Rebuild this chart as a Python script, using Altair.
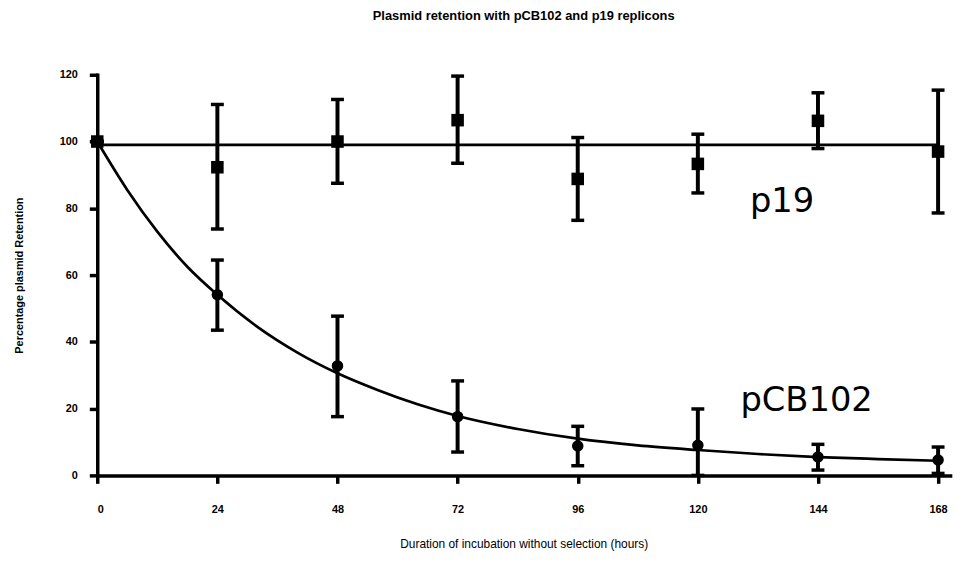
import altair as alt
import pandas as pd

# ---- data ----
hours = [0, 24, 48, 72, 96, 120, 144, 168]

p19_mean = [100, 92.3, 100.0, 106.4, 88.8, 93.3, 106.2, 97.0]
p19_upper = [100, 111.1, 112.6, 119.6, 101.2, 102.2, 114.6, 115.4]
p19_lower = [100, 73.8, 87.5, 93.5, 76.4, 84.6, 97.9, 78.6]

pcb_mean = [100, 54.1, 32.8, 17.6, 8.8, 9.0, 5.5, 4.6]
pcb_upper = [100, 64.5, 47.7, 28.3, 14.7, 19.9, 9.3, 8.5]
pcb_lower = [100, 43.5, 17.6, 7.0, 2.9, 0.0, 1.6, 0.6]

# fitted curves
p19_fit_x = [0, 168]
p19_fit_y = [99.0, 99.0]
pcb_fit_x = [0, 6, 12, 18, 24, 32, 40, 48, 56, 64, 72, 84, 96, 108, 120, 132, 144, 156, 168]
pcb_fit_y = [100, 85.5, 73.0, 62.5, 54.1, 44.5, 36.8, 30.6, 25.6, 21.3, 17.8, 13.9, 11.0, 9.0, 7.6, 6.4, 5.5, 4.9, 4.4]

x_ticks = [0, 24, 48, 72, 96, 120, 144, 168]
y_ticks = [0, 20, 40, 60, 80, 100, 120]

label_text = ["p19", "pCB102"]
label_x = [130.4, 128.5]
label_y = [78.8, 19.4]

# ---- tables ----
pts = pd.DataFrame({
    "h": hours * 2,
    "mean": p19_mean + pcb_mean,
    "upper": p19_upper + pcb_upper,
    "lower": p19_lower + pcb_lower,
    "series": ["p19"] * len(hours) + ["pCB102"] * len(hours),
})
fit = pd.DataFrame({
    "h": p19_fit_x + pcb_fit_x,
    "v": p19_fit_y + pcb_fit_y,
    "series": ["p19"] * len(p19_fit_x) + ["pCB102"] * len(pcb_fit_x),
})
labels = pd.DataFrame({"t": label_text, "h": label_x, "v": label_y})

xscale = alt.Scale(domain=[0, 170.4], nice=False, zero=False)
yscale = alt.Scale(domain=[0, 120], nice=False)

X_TITLE = "Duration of incubation without selection (hours)"
Y_TITLE = "Percentage plasmid Retention"

xaxis = alt.Axis(values=x_ticks, labelPadding=20, titleFontWeight="normal", titleFontSize=12,
                 titleY=69, titleBaseline="middle", domainWidth=3.5, tickWidth=3.5,
                 domainColor="#000000", tickColor="#000000", domainOpacity=1, tickOpacity=1)
yaxis = alt.Axis(values=y_ticks, labelPadding=12, titleFontWeight="bold", titleFontSize=11,
                 titleX=-78, titleY=202, titleBaseline="middle", titleAngle=270,
                 domainWidth=3.5, tickWidth=3.5,
                 domainColor="#000000", tickColor="#000000", domainOpacity=1, tickOpacity=1)


def xenc(field):
    return alt.X(f"{field}:Q", scale=xscale, axis=xaxis, title=X_TITLE)


def yenc(field):
    return alt.Y(f"{field}:Q", scale=yscale, axis=yaxis, title=Y_TITLE)


base_fit = alt.Chart(fit).mark_line(color="black", strokeWidth=2.7, interpolate="monotone").encode(
    x=xenc("h"), y=yenc("v"), detail="series:N")

bars = alt.Chart(pts).mark_rule(color="black", strokeWidth=4, opacity=1).encode(
    x=xenc("h"), y=yenc("lower"), y2="upper:Q")
cap_hi = alt.Chart(pts).mark_tick(color="black", thickness=3.5, size=13, orient="horizontal",
                                  opacity=1).encode(x=xenc("h"), y=yenc("upper"))
cap_lo = alt.Chart(pts).mark_tick(color="black", thickness=3.5, size=13, orient="horizontal",
                                  opacity=1).encode(x=xenc("h"), y=yenc("lower"))

sq = alt.Chart(pts).transform_filter(alt.datum.series == "p19").mark_square(
    color="black", size=160, opacity=1).encode(x=xenc("h"), y=yenc("mean"))
ci = alt.Chart(pts).transform_filter(alt.datum.series == "pCB102").mark_circle(
    color="black", size=135, opacity=1).encode(x=xenc("h"), y=yenc("mean"))

txt = alt.Chart(labels).mark_text(font="DejaVu Sans", fontSize=34, align="left",
                                  baseline="alphabetic", color="black").encode(
    x=xenc("h"), y=yenc("v"), text="t:N")

chart = alt.layer(base_fit, bars, cap_hi, cap_lo, sq, ci, txt).properties(
    width=860, height=404,
    autosize="none",
    padding={"left": 90, "top": 65, "right": 12, "bottom": 85},
    title=alt.TitleParams("Plasmid retention with pCB102 and p19 replicons",
                          font="Liberation Sans", fontSize=13, fontWeight="bold",
                          anchor="middle", offset=46, color="black"),
).configure_view(stroke=None).configure_axis(
    grid=False, domainColor="black", domainWidth=3.5, tickColor="black", tickWidth=3.5,
    tickSize=8, labelFont="Liberation Sans", labelFontSize=11, labelFontWeight="bold",
    labelColor="black", titleFont="Liberation Sans", titleColor="black", domainCap="square",
)

chart.save("out.html", embed_options={"renderer": "svg", "actions": False})
